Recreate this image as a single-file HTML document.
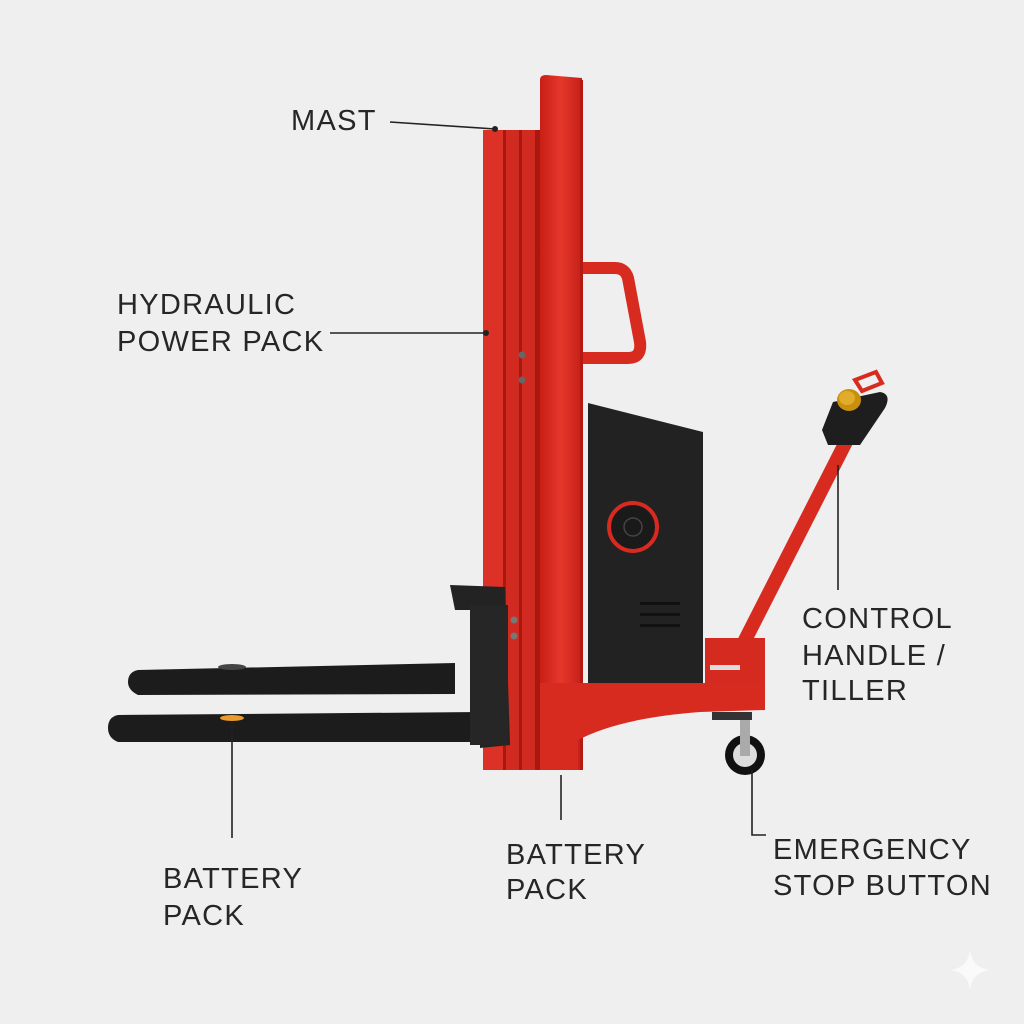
<!DOCTYPE html>
<html><head><style>
html,body{margin:0;padding:0;background:#efefef;}
svg{display:block}
text{font-family:"Liberation Sans",sans-serif;font-size:29px;fill:#262626;letter-spacing:1.3px}
</style></head><body>
<svg width="1024" height="1024" viewBox="0 0 1024 1024">
<defs>
<linearGradient id="r" x1="0" x2="1"><stop offset="0" stop-color="#c81f16"/><stop offset="0.5" stop-color="#e6372b"/><stop offset="1" stop-color="#c42017"/></linearGradient>
</defs>
<rect width="1024" height="1024" fill="#efefef"/>
<!-- rear rails -->
<rect x="483" y="130" width="57" height="640" fill="#d12a20"/>
<rect x="483" y="130" width="20" height="640" fill="#dc3126"/>
<rect x="503" y="130" width="3" height="640" fill="#a8180f"/>
<rect x="519" y="130" width="3" height="640" fill="#a8180f"/>
<rect x="535" y="130" width="5" height="640" fill="#a8180f"/>
<!-- handle -->
<path d="M580 268 L615 268 Q625 268 628 278 L640 342 Q642 358 628 358 L580 358" fill="none" stroke="#d82b20" stroke-width="12" stroke-linejoin="round"/>
<!-- front column -->
<path d="M540 80 Q540 75 546 75 L582 78 L582 770 L540 770 Z" fill="url(#r)"/>
<rect x="580" y="80" width="3" height="690" fill="#b51a12"/>
<!-- bolts -->
<circle cx="522" cy="355" r="3.5" fill="#666"/><circle cx="522" cy="380" r="3.5" fill="#666"/>
<circle cx="514" cy="620" r="3.5" fill="#777"/><circle cx="514" cy="636" r="3.5" fill="#777"/>
<!-- battery box -->
<path d="M588 403 L703 432 L703 685 Q703 690 698 690 L588 690 Z" fill="#222"/>
<circle cx="633" cy="527" r="24" fill="#1a1a1a" stroke="#d82a20" stroke-width="4"/>
<circle cx="633" cy="527" r="9" fill="none" stroke="#444" stroke-width="1.5"/>
<rect x="640" y="602" width="40" height="3" fill="#111"/><rect x="640" y="613" width="40" height="3" fill="#111"/><rect x="640" y="624" width="40" height="3" fill="#111"/>
<!-- tiller -->
<line x1="740" y1="650" x2="852" y2="430" stroke="#d82b20" stroke-width="14"/>
<rect x="705" y="638" width="60" height="45" fill="#d42a20"/>
<path d="M833 402 L880 392 Q892 394 885 408 L860 445 L828 445 L822 430 Z" fill="#1e1e1e"/>
<path d="M855 380 L876 372 L882 383 L862 391 Z" fill="none" stroke="#d82b20" stroke-width="4"/>
<ellipse cx="849" cy="400" rx="12" ry="11" fill="#c8900e"/><ellipse cx="847" cy="398" rx="8" ry="7" fill="#e0ac2a"/>
<!-- base -->
<path d="M540 683 L765 683 L765 710 L700 712 Q620 718 578 740 L578 770 L540 770 Z" fill="#d82b20"/>
<rect x="710" y="665" width="30" height="5" fill="#ddd"/>
<!-- caster -->
<rect x="712" y="712" width="40" height="8" fill="#333"/>
<circle cx="745" cy="755" r="20" fill="#111"/><circle cx="745" cy="755" r="12" fill="#ddd"/>
<rect x="740" y="720" width="10" height="36" fill="#aaa"/>
<!-- forks -->
<path d="M138 670 L455 663 L455 694 L138 695 Q128 690 128 682 Q128 672 138 670 Z" fill="#1c1c1c"/>
<path d="M118 715 L480 712 L480 742 L118 742 Q108 738 108 728 Q108 717 118 715 Z" fill="#1c1c1c"/>
<ellipse cx="232" cy="667" rx="14" ry="3" fill="#444"/>
<ellipse cx="232" cy="718" rx="12" ry="3" fill="#e89a2a"/>
<!-- carriage -->
<path d="M450 585 L505 587 L510 745 L480 748 L480 610 L455 610 Z" fill="#232323"/>
<rect x="470" y="605" width="38" height="140" fill="#262626"/>
<!-- leader lines -->
<g stroke="#222" stroke-width="1.6" fill="none">
<line x1="390" y1="122" x2="495" y2="129"/>
<line x1="330" y1="333" x2="486" y2="333"/>
<line x1="838" y1="465" x2="838" y2="590"/>
<line x1="232" y1="722" x2="232" y2="838"/>
<line x1="561" y1="775" x2="561" y2="820"/>
<polyline points="752,770 752,835 766,835"/>
</g>
<circle cx="495" cy="129" r="3" fill="#222"/><circle cx="486" cy="333" r="3" fill="#222"/>
<!-- labels -->
<text x="291" y="130">MAST</text>
<text x="117" y="314">HYDRAULIC</text>
<text x="117" y="351">POWER PACK</text>
<text x="802" y="628">CONTROL</text>
<text x="802" y="665">HANDLE /</text>
<text x="802" y="700">TILLER</text>
<text x="163" y="888">BATTERY</text>
<text x="163" y="925">PACK</text>
<text x="506" y="864">BATTERY</text>
<text x="506" y="899">PACK</text>
<text x="773" y="859">EMERGENCY</text>
<text x="773" y="895">STOP BUTTON</text>
<path d="M970 950 Q972 968 990 970 Q972 972 970 990 Q968 972 950 970 Q968 968 970 950Z" fill="#fafafa"/>
</svg>
</body></html>
